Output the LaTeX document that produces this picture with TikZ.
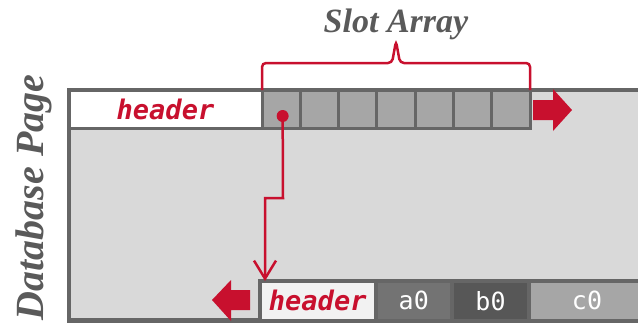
\documentclass[tikz,border=0pt]{standalone}
\usepackage{fontspec}
\setmainfont{Liberation Serif}
\setmonofont{DejaVu Sans Mono}[
  ItalicFont={DejaVu Sans Mono Oblique},
  BoldItalicFont={DejaVu Sans Mono Bold Oblique}]
\usetikzlibrary{positioning,arrows.meta}

\definecolor{pagered}{HTML}{C8102E}
\definecolor{linegray}{HTML}{666666}
\definecolor{pagefill}{HTML}{D9D9D9}
\definecolor{slotgray}{HTML}{A6A6A6}
\definecolor{textgray}{HTML}{5A5A5A}
\definecolor{hdrwhite}{HTML}{F2F2F2}

\tikzset{
  cellbox/.style={draw=linegray, line width=3pt, inner sep=0pt, outer sep=0pt,
    minimum height=38pt},
  slotbox/.style={cellbox, fill=slotgray, minimum width=38.3pt},
  fieldbox/.style={draw=linegray, line width=4pt, inner sep=0pt, outer sep=0pt,
    minimum height=39.5pt, text=white, font=\ttfamily\fontsize{25}{25}\selectfont},
  redlabel/.style={text=pagered, font=\ttfamily\bfseries\itshape\fontsize{27}{27}\selectfont},
  redline/.style={draw=pagered, line width=2.5pt},
}

\begin{document}
\begin{tikzpicture}[x=1pt, y=-1pt]

\useasboundingbox (0,0) rectangle (638,325);
\clip (0,0) rectangle (638,325);

%%%%%%%%%%%%%%%%%%%%%%%%%%%%%%%%%%%%%%%%%%%%%%%%%%%%%%
% PAGE
%%%%%%%%%%%%%%%%%%%%%%%%%%%%%%%%%%%%%%%%%%%%%%%%%%%%%%

\node[
draw=linegray,
line width=4.5pt,
fill=pagefill,
minimum width=640pt,
minimum height=230.5pt,
inner sep=0pt,
outer sep=0pt,
anchor=north west
](page)
at (69,90)
{};

\node[
rotate=90,
anchor=base east,
text=textgray,
font=\bfseries\itshape\fontsize{40}{40}\selectfont
](side)
at (43,71)
{Database Page};

%%%%%%%%%%%%%%%%%%%%%%%%%%%%%%%%%%%%%%%%%%%%%%%%%%%%%%
% HEADER + SLOT ARRAY
%%%%%%%%%%%%%%%%%%%%%%%%%%%%%%%%%%%%%%%%%%%%%%%%%%%%%%

\node[
cellbox,
redlabel,
fill=white,
minimum width=193pt,
anchor=north west
](hdr)
at (page.north west)
{header};

\node[slotbox, right=0pt of hdr](s1){};
\foreach \i [count=\prev from 1] in {2,...,7}
  \node[slotbox, right=0pt of s\prev](s\i){};

% grows to the right
\fill[pagered] (572,110) -- (553,89) -- (553,100) -- (533,100)
  -- (533,120) -- (553,120) -- (553,131) -- cycle;

% brace over the slots
\draw[redline, rounded corners=4pt]
  (s1.north west) |- (392,63) -- (396,41) -- (400,63) -| (s7.north east);

\node[
anchor=base,
text=textgray,
font=\bfseries\itshape\fontsize{34}{34}\selectfont
](title)
at (396,32)
{Slot Array};

%%%%%%%%%%%%%%%%%%%%%%%%%%%%%%%%%%%%%%%%%%%%%%%%%%%%%%
% TUPLE
%%%%%%%%%%%%%%%%%%%%%%%%%%%%%%%%%%%%%%%%%%%%%%%%%%%%%%

\node[
fieldbox,
redlabel,
fill=hdrwhite,
minimum width=115.5pt,
anchor=north west
](th)
at (260,281)
{header};

\node[fieldbox, fill=linegray!80!slotgray, minimum width=76.5pt, right=0pt of th](a0){a0};
\node[fieldbox, fill=linegray!85!black, minimum width=77pt, right=0pt of a0](b0){b0};
\node[fieldbox, fill=slotgray, minimum width=116pt, right=0pt of b0](c0){c0};

% grows to the left
\fill[pagered] (212,300) -- (231,280) -- (231,290) -- (250,290)
  -- (250,310) -- (231,310) -- (231,321) -- cycle;

%%%%%%%%%%%%%%%%%%%%%%%%%%%%%%%%%%%%%%%%%%%%%%%%%%%%%%
% POINTER
%%%%%%%%%%%%%%%%%%%%%%%%%%%%%%%%%%%%%%%%%%%%%%%%%%%%%%

\node[
circle,
fill=pagered,
minimum size=12pt,
inner sep=0pt
](dot)
at ([xshift=1.5pt,yshift=-7pt]s1.center)
{};

\coordinate (bend) at (283,198);

\draw[redline, -{Straight Barb[length=18pt,width=22pt]}]
  (dot.center) -- (bend) -| ([xshift=5pt]th.north west);

\end{tikzpicture}
\end{document}
